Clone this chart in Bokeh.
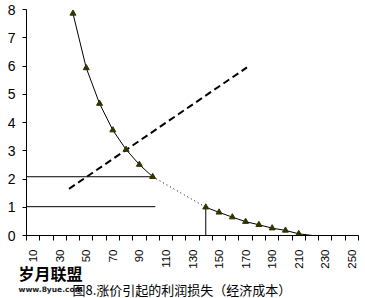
import math
from bokeh.plotting import figure
from bokeh.layouts import column, row
from bokeh.models import FixedTicker, Label, Range1d
from bokeh.embed import file_html
from bokeh.resources import INLINE

# ---- data ----
categories = list(range(10, 260, 10))          # category axis 10 .. 250
x_tick_labels = list(range(10, 260, 20))       # labelled every other category
y_ticks = list(range(0, 9))

# profit curve, part 1 (with markers, solid)
seg1_x = [40, 50, 60, 70, 80, 90, 100]
seg1_y = [7.86, 5.93, 4.67, 3.73, 3.04, 2.51, 2.08]
# dotted bridge
dot_x = [100, 140]
dot_y = [2.08, 1.00]
# profit curve, part 2 (with markers, solid)
seg2_x = [140, 150, 160, 170, 180, 190, 200, 210]
seg2_y = [1.00, 0.82, 0.65, 0.49, 0.38, 0.26, 0.18, 0.06]
# tail of the curve
tail_x = [210, 250]
tail_y = [0.06, -0.17]
# dashed cost line
dash_x = [37, 171]
dash_y = [1.65, 5.95]
# horizontal price levels
hi_x = [5, 100]
hi_y = [2.08, 2.08]
lo_x = [5, 102]
lo_y = [1.02, 1.02]
# vertical drop line
v_x = [140, 140]
v_y = [0, 1.00]

caption = "图8.涨价引起的利润损失（经济成本）"
brand = "岁月联盟"
brand_url = "www.8yue.com"

p = figure(width=365, height=271,
           x_range=Range1d(5, 255), y_range=Range1d(0, 8),
           output_backend="svg", toolbar_location=None,
           min_border_left=26, min_border_right=7,
           min_border_top=9, min_border_bottom=36)
p.grid.visible = False
p.outline_line_color = None
p.background_fill_color = "white"
p.border_fill_color = "white"

# x axis: labels at every other category, tick marks at category boundaries
p.xaxis.ticker = FixedTicker(ticks=x_tick_labels,
                             minor_ticks=[c - 5 for c in categories] + [255])
p.xaxis.major_tick_out = 0
p.xaxis.major_tick_in = 0
p.xaxis.major_tick_line_color = None
p.xaxis.minor_tick_out = 5
p.xaxis.minor_tick_in = 0
p.xaxis.minor_tick_line_color = "black"
p.xaxis.axis_line_color = "black"
p.xaxis.major_label_orientation = math.pi / 2
p.xaxis.major_label_standoff = 9
p.xaxis.major_label_text_font = "Liberation Sans"
p.xaxis.major_label_text_font_size = "11.5px"
p.xaxis.major_label_text_color = "black"

p.yaxis.ticker = FixedTicker(ticks=y_ticks)
p.yaxis.major_tick_out = 4
p.yaxis.major_tick_in = 0
p.yaxis.minor_tick_line_color = None
p.yaxis.axis_line_color = "black"
p.yaxis.major_tick_line_color = "black"
p.yaxis.major_label_standoff = 7
p.yaxis.major_label_text_font = "Liberation Sans"
p.yaxis.major_label_text_font_size = "14px"
p.yaxis.major_label_text_color = "black"

# lines
p.line(hi_x, hi_y, line_color="black", line_width=1)
p.line(lo_x, lo_y, line_color="black", line_width=1)
p.line(v_x, v_y, line_color="black", line_width=1)
p.line(dash_x, dash_y, line_color="black", line_width=2, line_dash="7 4")
p.line(dot_x, dot_y, line_color="black", line_width=1, line_dash="1 3")
p.line(tail_x, tail_y, line_color="black", line_width=1)
p.line(seg1_x, seg1_y, line_color="black", line_width=1)
p.line(seg2_x, seg2_y, line_color="black", line_width=1)
p.scatter(seg1_x, seg1_y, marker="triangle", size=6,
          fill_color="#333300", line_color="#333300")
p.scatter(seg2_x, seg2_y, marker="triangle", size=6,
          fill_color="#333300", line_color="#333300")

# caption strip below the chart: transparent, pulled up over the empty
# bottom margin of the chart; coordinates are strip pixels, y downward
strip_h = 39
c = figure(width=365, height=strip_h,
           x_range=Range1d(0, 365), y_range=Range1d(strip_h, 0),
           x_axis_type=None, y_axis_type=None,
           output_backend="svg", toolbar_location=None,
           min_border=0)
c.grid.visible = False
c.outline_line_color = None
c.background_fill_alpha = 0
c.border_fill_alpha = 0
c.add_layout(Label(x=18, y=13, text=brand, text_font="Noto Sans CJK SC",
                   text_font_size="16px", text_font_style="bold",
                   text_color="black", text_baseline="middle", text_align="left"))
c.add_layout(Label(x=18, y=29.5, text=brand_url, text_font="DejaVu Sans",
                   text_font_size="7.5px", text_font_style="bold",
                   text_color="#222222", text_baseline="middle", text_align="left"))
c.add_layout(Label(x=72, y=29.5, text=caption, text_font="Noto Sans CJK SC",
                   text_font_size="13px", text_color="black",
                   text_baseline="middle", text_align="left"))

strip = row(c, margin=(-12, 0, 0, 0))
layout = column(p, strip, spacing=0)
open("out.html", "w").write(file_html(layout, INLINE))
